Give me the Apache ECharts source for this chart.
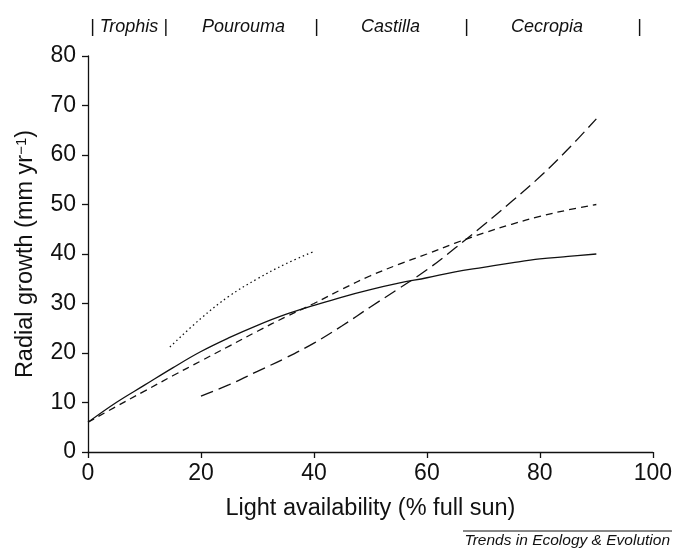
<!DOCTYPE html>
<html>
<head>
<meta charset="utf-8">
<script src="https://cdn.jsdelivr.net/npm/echarts@6/dist/echarts.min.js"></script>
<style>
html,body{margin:0;padding:0;background:#fff;}
#chart{width:675px;height:548px;}
</style>
</head>
<body>
<div id="chart"></div>
<script>
// Light availability (% full sun) sample points
const lightX = [0, 5, 10, 15, 20, 25, 30, 35, 40, 45, 50, 55, 60, 65, 70, 75, 80, 85, 90];
// Solid curve
const pouroumaY = [6.0, 10.0, 13.5, 17.0, 20.3, 23.1, 25.6, 27.8, 29.6, 31.3, 32.8, 34.1, 35.2, 36.4, 37.3, 38.2, 39.0, 39.5, 40.0];
// Short-dashed curve
const castillaY = [6.0, 9.2, 12.3, 15.4, 18.4, 21.4, 24.4, 27.3, 30.0, 32.9, 35.6, 37.9, 40.0, 42.2, 44.2, 46.0, 47.6, 48.9, 50.0];
// Long-dashed curve
const cecropiaX = [20, 25, 30, 35, 40, 45, 50, 55, 60, 65, 70, 75, 80, 85, 90];
const cecropiaY = [11.3, 13.6, 16.3, 19.0, 22.0, 25.5, 29.3, 33.0, 36.8, 41.2, 45.8, 50.6, 55.6, 61.2, 67.3];
// Dotted curve
const trophisX = [14.5, 20, 25, 30, 35, 40];
const trophisY = [21.2, 27.0, 31.5, 35.0, 38.0, 40.5];

const xTicks = [0, 20, 40, 60, 80, 100];
const yTicks = [0, 10, 20, 30, 40, 50, 60, 70, 80];

const pair = (xs, ys) => xs.map((x, i) => [x, ys[i]]);

const ink = '#111';
const font = 'Liberation Sans, Arial, Helvetica, sans-serif';

const chart = echarts.init(document.getElementById('chart'), null, {renderer: 'canvas'});

const lineSeries = (name, data, type, dash) => ({
  name: name,
  type: 'line',
  data: data,
  smooth: 0.4,
  showSymbol: false,
  symbol: 'none',
  lineStyle: {color: ink, width: 1.3, type: dash ? dash : type},
  emphasis: {disabled: true},
  silent: true
});

const topLabel = (text, x) => ({
  type: 'text',
  left: x,
  top: 18,
  style: {text: text, font: 'italic 18px ' + font, fill: ink}
});

chart.setOption({
  animation: false,
  backgroundColor: '#fff',
  grid: {left: 88, right: 21, top: 56, bottom: 96, containLabel: false},
  xAxis: {
    type: 'value',
    min: xTicks[0], max: xTicks[xTicks.length - 1], interval: 20,
    name: 'Light availability (% full sun)',
    nameLocation: 'middle',
    nameGap: 45,
    nameTextStyle: {fontFamily: font, fontSize: 23.5, color: ink},
    axisLine: {show: true, lineStyle: {color: ink, width: 1.3}},
    axisTick: {show: true, inside: false, length: 6, lineStyle: {color: ink, width: 1.3}},
    axisLabel: {fontFamily: font, fontSize: 23, color: ink, margin: 10},
    splitLine: {show: false}
  },
  yAxis: {
    type: 'value',
    min: yTicks[0], max: yTicks[yTicks.length - 1], interval: 10,
    name: 'Radial growth (mm yr{sup|−1})',
    nameLocation: 'middle',
    nameGap: 50,
    nameRotate: 90,
    nameTextStyle: {
      fontFamily: font, fontSize: 23.5, color: ink,
      rich: {sup: {fontFamily: font, fontSize: 15, color: ink, verticalAlign: 'top', padding: [0, 0, 8, 0]}}
    },
    axisLine: {show: true, lineStyle: {color: ink, width: 1.3}},
    axisTick: {show: true, inside: false, length: 6, lineStyle: {color: ink, width: 1.3}},
    axisLabel: {fontFamily: font, fontSize: 23, color: ink, margin: 12},
    splitLine: {show: false}
  },
  series: [
    lineSeries('Trophis', pair(trophisX, trophisY), 'dotted', [1.5, 3]),
    lineSeries('Pourouma', pair(lightX, pouroumaY), 'solid'),
    lineSeries('Castilla', pair(lightX, castillaY), 'dashed', [7, 5]),
    lineSeries('Cecropia', pair(cecropiaX, cecropiaY), 'dashed', [13, 6])
  ],
  graphic: [
    topLabel('| Trophis |', 90),
    topLabel('Pourouma', 202),
    topLabel('|', 314),
    topLabel('Castilla', 361),
    topLabel('|', 464),
    topLabel('Cecropia', 511),
    topLabel('|', 637),
    {
      type: 'line',
      shape: {x1: 463, y1: 531, x2: 672, y2: 531},
      style: {stroke: ink, lineWidth: 1}
    },
    {
      type: 'text',
      right: 5,
      top: 533,
      style: {text: 'Trends in Ecology & Evolution', font: 'italic 15.5px ' + font, fill: ink}
    }
  ]
});
</script>
</body>
</html>
